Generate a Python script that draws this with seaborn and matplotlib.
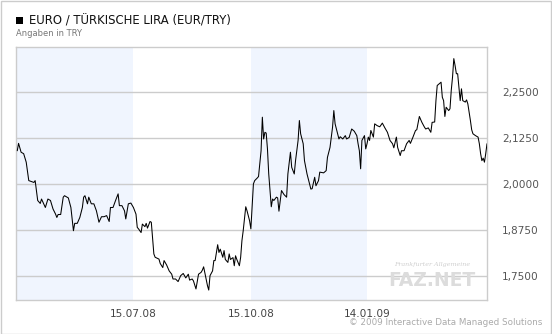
import matplotlib
matplotlib.use("Agg")
import matplotlib.pyplot as plt
import matplotlib.patches as mpatches
import seaborn as sns
import pandas as pd
import numpy as np

# ---- data ----
start_date = "2008-04-14"
day_offsets = [1, 2, 4, 6, 8, 10, 14, 15, 17, 19, 20, 23, 25, 27, 29, 31, 32, 33, 35, 37,
               38, 41, 43, 45, 46, 48, 50, 52, 53, 54, 56, 57, 59, 61, 63, 65, 67, 69, 71, 73,
               74, 76, 78, 80, 81, 83, 85, 86, 88, 90, 92, 94, 95, 96, 98, 99, 101, 102, 103, 105,
               106, 108, 109, 112, 113, 115, 116, 118, 120, 122, 123, 125, 127, 129, 131, 133, 135, 136, 138, 139,
               141, 143, 145, 146, 147, 149, 150, 151, 152, 154, 155, 156, 158, 159, 160, 162, 163, 164, 166, 167,
               168, 170, 171, 172, 173, 175, 176, 177, 178, 180, 181, 183, 184, 186, 187, 189, 190, 192, 193, 194,
               195, 196, 197, 198, 200, 201, 202, 204, 205, 206, 208, 210, 212, 213, 215, 216, 218, 219, 221, 222,
               223, 225, 226, 227, 228, 231, 232, 234, 235, 237, 238, 241, 243, 244, 246, 248, 249, 250, 252, 253,
               254, 256, 258, 259, 261, 263, 265, 267, 268, 269, 270, 271, 273, 274, 275, 276, 277, 278, 280, 281,
               283, 285, 287, 289, 291, 293, 295, 296, 298, 299, 301, 302, 304, 306, 308, 309, 311, 313, 314, 316,
               318, 320, 321, 323, 325, 326, 328, 329, 330, 331, 333, 334, 335, 336, 337, 339, 340, 341, 342, 343,
               344, 345, 346, 347, 348, 349, 350, 352, 353, 354, 356, 357, 358, 360, 362, 363, 364, 365, 366, 367,
               368, 369]
rates = [2.090, 2.110, 2.086, 2.082, 2.059, 2.009, 2.004, 2.009, 1.955, 1.947, 1.959, 1.936, 1.959, 1.955, 1.932, 1.918, 1.909, 1.917, 1.917, 1.964,
         1.968, 1.962, 1.936, 1.873, 1.893, 1.893, 1.909, 1.936, 1.964, 1.968, 1.946, 1.964, 1.946, 1.946, 1.927, 1.896, 1.911, 1.911, 1.914, 1.898,
         1.936, 1.936, 1.955, 1.973, 1.941, 1.941, 1.927, 1.905, 1.946, 1.948, 1.936, 1.918, 1.882, 1.878, 1.868, 1.891, 1.884, 1.893, 1.880, 1.898,
         1.896, 1.810, 1.801, 1.796, 1.784, 1.773, 1.792, 1.780, 1.764, 1.755, 1.742, 1.742, 1.735, 1.751, 1.757, 1.745, 1.755, 1.739, 1.742, 1.737,
         1.715, 1.755, 1.760, 1.766, 1.775, 1.740, 1.724, 1.712, 1.751, 1.764, 1.792, 1.792, 1.835, 1.814, 1.823, 1.801, 1.819, 1.795, 1.787, 1.810,
         1.795, 1.800, 1.778, 1.805, 1.795, 1.778, 1.801, 1.846, 1.873, 1.938, 1.927, 1.900, 1.878, 2.000, 2.009, 2.016, 2.020, 2.090, 2.181, 2.122,
         2.140, 2.138, 2.095, 2.027, 1.938, 1.959, 1.955, 1.964, 1.962, 1.926, 1.982, 1.971, 1.964, 2.027, 2.086, 2.045, 2.027, 2.063, 2.118, 2.172,
         2.136, 2.109, 2.063, 2.045, 2.027, 1.986, 1.987, 2.018, 1.995, 2.009, 2.032, 2.030, 2.036, 2.072, 2.099, 2.154, 2.199, 2.163, 2.136, 2.122,
         2.128, 2.122, 2.131, 2.122, 2.126, 2.149, 2.143, 2.131, 2.109, 2.090, 2.041, 2.118, 2.131, 2.095, 2.109, 2.127, 2.118, 2.145, 2.127, 2.163,
         2.158, 2.155, 2.165, 2.152, 2.140, 2.118, 2.109, 2.098, 2.127, 2.099, 2.077, 2.090, 2.090, 2.109, 2.118, 2.110, 2.127, 2.145, 2.147, 2.183,
         2.167, 2.154, 2.149, 2.152, 2.140, 2.167, 2.168, 2.226, 2.267, 2.270, 2.276, 2.235, 2.226, 2.183, 2.208, 2.199, 2.204, 2.254, 2.290, 2.340,
         2.321, 2.299, 2.299, 2.262, 2.226, 2.258, 2.226, 2.222, 2.228, 2.217, 2.172, 2.147, 2.136, 2.131, 2.127, 2.109, 2.082, 2.063, 2.070, 2.059,
         2.082, 2.109]
x_tick_dates = ["2008-07-15", "2008-10-15", "2009-01-14"]
x_tick_labels = ["15.07.08", "15.10.08", "14.01.09"]
y_ticks = [1.75, 1.875, 2.0, 2.125, 2.25]
y_tick_labels = ["1,7500", "1,8750", "2,0000", "2,1250", "2,2500"]
band_ranges = [("2008-04-14", "2008-07-15"), ("2008-10-15", "2009-01-14")]
title = "EURO / TÜRKISCHE LIRA (EUR/TRY)"
subtitle = "Angaben in TRY"
copyright_text = "© 2009 Interactive Data Managed Solutions"

# ---- build frame ----
t0 = pd.Timestamp(start_date)
df = pd.DataFrame({"date": t0 + pd.to_timedelta(day_offsets, unit="D"), "rate": rates})

sns.set_theme(style="white")
plt.rcParams["font.family"] = ["DejaVu Sans"]

W, H = 552, 334
fig = plt.figure(figsize=(W / 100, H / 100), dpi=100)
fig.patch.set_facecolor("white")

# outer border
fig.add_artist(mpatches.Rectangle((0.5 / W, 0.5 / H), (W - 1.5) / W, (H - 1.5) / H,
                                  transform=fig.transFigure, fill=False,
                                  edgecolor="#cccccc", linewidth=1.0))

# plot area
L, R, T, B = 16, 487, 47, 300
ax = fig.add_axes([L / W, 1 - B / H, (R - L) / W, (B - T) / H])
ax.set_facecolor("white")

for a, b in band_ranges:
    ax.axvspan(pd.Timestamp(a), pd.Timestamp(b), color="#f0f5fe", lw=0, zorder=0)

for yv in y_ticks:
    ax.axhline(yv, color="#cccccc", lw=1.0, zorder=1)

sns.lineplot(data=df, x="date", y="rate", ax=ax, color="black", lw=0.75, zorder=3)

ax.set_xlim(t0, t0 + pd.Timedelta(days=369.0))
ax.set_ylim(1.685, 2.3715)

ax.set_xticks([pd.Timestamp(d) for d in x_tick_dates])
ax.set_xticklabels(x_tick_labels, fontsize=7.6, color="#444444")
ax.set_yticks(y_ticks)
ax.set_yticklabels(y_tick_labels, fontsize=7.6, color="#555555")
ax.yaxis.tick_right()
ax.tick_params(axis="y", length=0, pad=11)
ax.tick_params(axis="x", length=0, pad=6.5)
ax.set_xlabel("")
ax.set_ylabel("")
ax.grid(False)
for s in ax.spines.values():
    s.set_visible(True)
    s.set_color("#cccccc")
    s.set_linewidth(1.0)

# title block
fig.add_artist(mpatches.Rectangle((16 / W, 1 - 24 / H), 7 / W, 7 / H,
                                  transform=fig.transFigure, color="black", lw=0))
fig.text(29 / W, 1 - 20.5 / H, title, fontsize=8.4, color="#111111", va="center", ha="left")
fig.text(16 / W, 1 - 33.5 / H, subtitle, fontsize=6.0, color="#777777", va="center", ha="left")

# watermark
fig.text(432 / W, 1 - 264.5 / H, "Frankfurter Allgemeine", fontsize=4.6, color="#cfcfcf",
         family="DejaVu Serif", style="italic", va="center", ha="center")
fig.text(432 / W, 1 - 281 / H, "FAZ.NET", fontsize=13.5, color="#dcdcdc", weight="bold",
         family=["Liberation Sans Narrow", "DejaVu Sans"], va="center", ha="center")

fig.text(542 / W, 1 - 322.5 / H, copyright_text, fontsize=6.3, color="#aaaaaa",
         va="center", ha="right")

fig.savefig("out.png", dpi=100, facecolor="white")
